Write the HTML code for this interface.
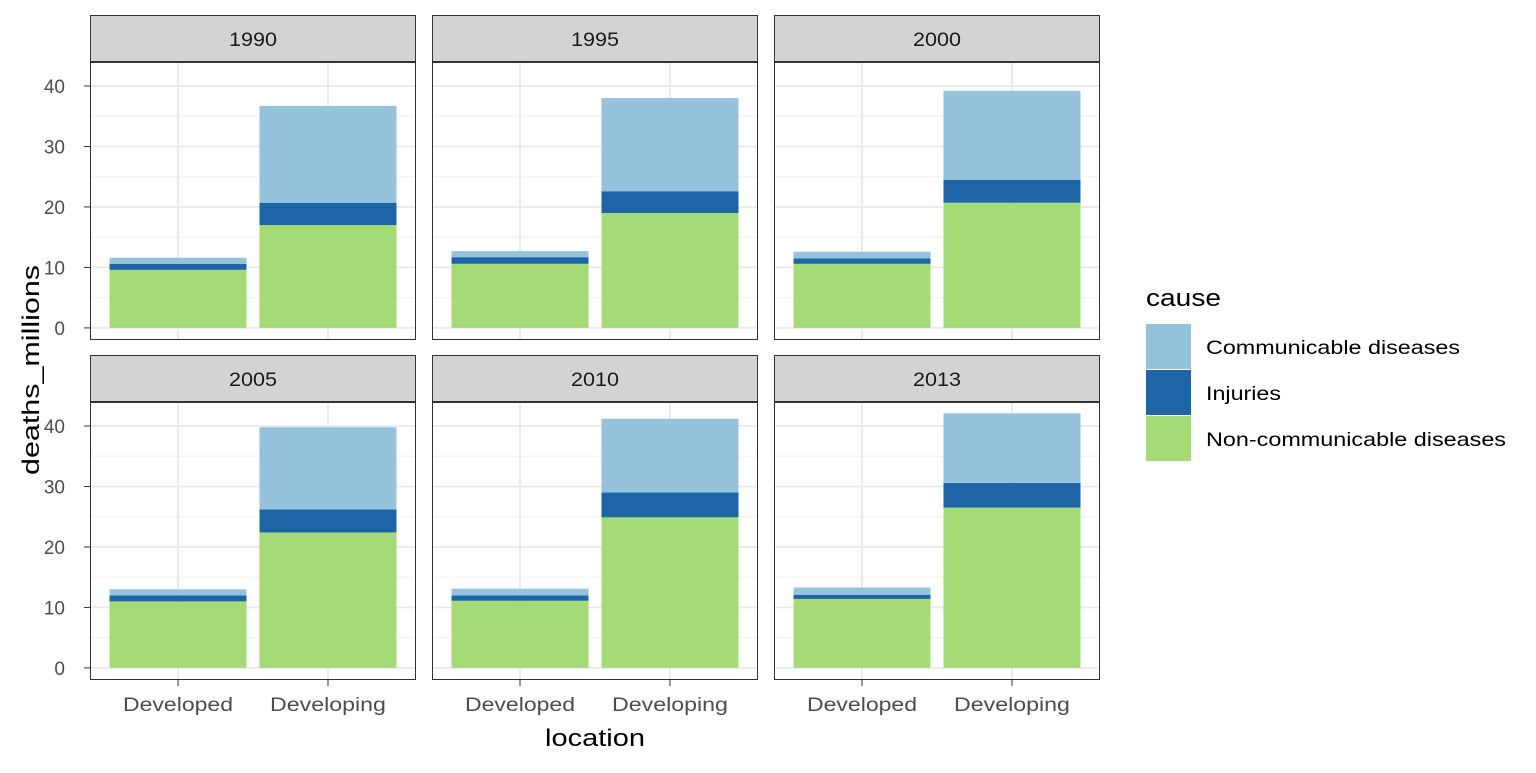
<!DOCTYPE html>
<html><head><meta charset="utf-8"><style>
body{margin:0;background:#fff;}
svg text{font-family:"Liberation Sans",Arial,sans-serif;}
</style></head><body>
<svg id="chart" width="1536" height="768" xmlns="http://www.w3.org/2000/svg"></svg>
<script>
const years=["1990","1995","2000","2005","2010","2013"];
const locations=["Developed","Developing"];
const causes=["Non-communicable diseases","Injuries","Communicable diseases"];
const ncd=[[9.6,17.0],[10.6,19.0],[10.6,20.7],[11.0,22.4],[11.1,24.9],[11.4,26.5]];
const injuries=[[1.0,3.7],[1.1,3.6],[0.9,3.8],[1.0,3.8],[0.9,4.1],[0.7,4.1]];
const communicable=[[1.0,16.0],[1.0,15.4],[1.1,14.7],[1.0,13.6],[1.1,12.2],[1.2,11.5]];
const yTicks=[0,10,20,30,40];
const colors=["#A4DB77","#1D65A6","#96C3DC"];
const series=[ncd,injuries,communicable];

const svg=document.getElementById('chart');
const NS="http://www.w3.org/2000/svg";
function mk(tag,attrs,parent){const e=document.createElementNS(NS,tag);for(const k in attrs)e.setAttribute(k,attrs[k]);(parent||svg).appendChild(e);return e;}
const colX=[90,432,774], pw=326;
const rowTop=[62,402], ph=278;
const ymax=43.97, ymin=-2.0;
function yScale(v,r){return rowTop[r]+ph-(v-ymin)/(ymax-ymin)*ph;}
function xScale(i,c){return colX[c]+pw*(0.27+0.46*i);}
const bw=137;

years.forEach((yr,p)=>{
  const c=p%3,r=Math.floor(p/3);
  const g=mk('g',{});
  
  
  mk('rect',{x:colX[c],y:rowTop[r],width:pw,height:ph,fill:'#fff'},g);
  for(let v=5;v<=40;v+=10){mk('line',{x1:colX[c],x2:colX[c]+pw,y1:yScale(v,r),y2:yScale(v,r),stroke:'#f0f0f0','stroke-width':1},g);}
  yTicks.forEach(v=>{mk('line',{x1:colX[c],x2:colX[c]+pw,y1:yScale(v,r),y2:yScale(v,r),stroke:'#ebebeb','stroke-width':2},g);});
  locations.forEach((l,i)=>{mk('line',{x1:xScale(i,c),x2:xScale(i,c),y1:rowTop[r],y2:rowTop[r]+ph,stroke:'#ebebeb','stroke-width':2},g);});
  locations.forEach((l,i)=>{
    let base=0;
    series.forEach((s,k)=>{
      const v=s[p][i];
      const b=mk('rect',{x:xScale(i,c)-bw/2,y:yScale(base+v,r),width:bw,height:yScale(base,r)-yScale(base+v,r),fill:colors[k]},g);
      
      
      base+=v;
    });
  });
  mk('rect',{x:colX[c]+0.5,y:rowTop[r]+0.5,width:pw-1,height:ph-1,fill:'none',stroke:'#333','stroke-width':1},g);
  const st=mk('rect',{x:colX[c]+0.5,y:rowTop[r]-46.5,width:pw-1,height:46,fill:'#d3d3d3',stroke:'#333','stroke-width':1},g);
  
  
  const t=mk('text',{x:colX[c]+pw/2,y:rowTop[r]-16,'text-anchor':'middle','font-size':19,fill:'#1a1a1a',textLength:48,lengthAdjust:'spacingAndGlyphs'},g);
  t.textContent=yr;
  if(c===0){
    yTicks.forEach(v=>{
      mk('line',{x1:84,x2:90,y1:yScale(v,r),y2:yScale(v,r),stroke:'#333','stroke-width':1},g);
      const tt=mk('text',{x:65,y:yScale(v,r)+7,'text-anchor':'end','font-size':19,fill:'#4d4d4d'},g);
      tt.textContent=v;
      
      
    });
  }
  if(r===1){
    locations.forEach((l,i)=>{
      mk('line',{x1:xScale(i,c),x2:xScale(i,c),y1:rowTop[r]+ph,y2:rowTop[r]+ph+6,stroke:'#333','stroke-width':1},g);
      const tt=mk('text',{x:xScale(i,c),y:711,'text-anchor':'middle','font-size':19,fill:'#4d4d4d',textLength:l==='Developed'?110:116,lengthAdjust:'spacingAndGlyphs'},g);
      tt.textContent=l;
      
      
    });
  }
});
const xt=mk('text',{x:595,y:746,'text-anchor':'middle','font-size':24,fill:'#000',textLength:100,lengthAdjust:'spacingAndGlyphs'});
xt.textContent='location';


const yt=mk('text',{x:0,y:0,'text-anchor':'middle','font-size':24,fill:'#000',transform:'translate(39,370) rotate(-90)',textLength:210,lengthAdjust:'spacingAndGlyphs'});
yt.textContent='deaths_millions';


const lg=mk('g',{});


const lt=mk('text',{x:1146,y:306,'font-size':24,fill:'#000',textLength:75,lengthAdjust:'spacingAndGlyphs'},lg);
lt.textContent='cause';
const legOrder=[2,1,0];
const legW=[254,75,300];
legOrder.forEach((k,j)=>{
  const y0=324+j*46;
  const kr=mk('rect',{x:1146,y:y0,width:45,height:45,fill:colors[k]},lg);
  
  
  const tx=mk('text',{x:1206,y:y0+30,'font-size':19.5,fill:'#000',textLength:legW[j],lengthAdjust:'spacingAndGlyphs'},lg);
  tx.textContent=causes[k];
  
  
});
</script>
</body></html>
